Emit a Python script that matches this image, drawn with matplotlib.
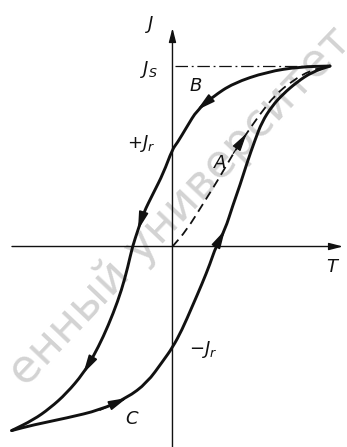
import matplotlib
matplotlib.use("Agg")
import matplotlib.pyplot as plt
from matplotlib.patches import FancyArrowPatch, PathPatch
from matplotlib.path import Path

plt.rcParams["mathtext.fontset"] = "dejavusans"

# Field (T) and magnetisation (J), in units of the saturation point
desc_T = [1.00, 0.81, 0.60, 0.384, 0.257, 0.156, 0.092, 0.029, 0.0, -0.058, -0.122,
          -0.185, -0.219, -0.254, -0.283, -0.323, -0.376, -0.439, -0.503, -0.566,
          -0.672, -0.778, -0.884, -1.021]
desc_J = [1.00, 0.996, 0.968, 0.904, 0.830, 0.756, 0.664, 0.572, 0.540, 0.406, 0.295,
          0.184, 0.091, 0.0, -0.112, -0.241, -0.370, -0.500, -0.610, -0.703,
          -0.813, -0.896, -0.961, -1.020]

asc_T = [-1.021, -0.886, -0.670, -0.460, -0.289, -0.162, -0.060, 0.0, 0.060, 0.124,
         0.187, 0.238, 0.276, 0.333, 0.384, 0.429, 0.473, 0.524, 0.568, 0.632,
         0.702, 0.790, 0.886, 1.00]
asc_J = [-1.020, -0.989, -0.950, -0.906, -0.839, -0.756, -0.634, -0.560, -0.463, -0.335,
         -0.208, -0.097, 0.0, 0.091, 0.230, 0.341, 0.463, 0.590, 0.690, 0.778,
         0.845, 0.911, 0.967, 1.00]

init_T = [0.0, 0.090, 0.196, 0.302, 0.386, 0.471, 0.556, 0.651, 0.759, 0.879, 1.00]
init_J = [0.0, 0.091, 0.239, 0.387, 0.516, 0.627, 0.734, 0.839, 0.917, 0.978, 1.00]

J_s = 1.0
J_r_pos = 0.540
J_r_neg = -0.560

# direction arrows: index of the arrow tip on each curve
desc_arrows = [5, 12, 19]
asc_arrows = [4, 13]
init_arrows = [5]

fig = plt.figure(figsize=(3.47, 4.47), dpi=100)
ax = fig.add_axes([0, 0, 1, 1])
ax.set_xlim(-1.095, 1.108)
ax.set_ylim(-1.111, 1.366)
ax.axis("off")

ink = "#111111"

# watermark
ax.text(0.048, 0.224, "енный университет", rotation=46.5, rotation_mode="anchor",
        ha="center", va="center", fontsize=33, color="#d3d3d3",
        family="DejaVu Sans", zorder=0)

# coordinate axes
axis_arrow = dict(arrowstyle="-|>,head_length=0.7,head_width=0.18",
                  color=ink, lw=1.0, mutation_scale=12, shrinkA=0, shrinkB=0)
ax.annotate("", xy=(1.083, 0), xytext=(-1.019, 0), arrowprops=axis_arrow)
ax.annotate("", xy=(0, 1.211), xytext=(0, -1.12), arrowprops=axis_arrow)

# saturation level
ax.plot([0.016, 1.0], [J_s, J_s], color=ink, lw=0.9, dashes=(10, 3, 1.5, 3))


def smooth_path(xs, ys):
    """Quadratic B-spline path through the midpoints of the given points."""
    pts = list(zip(xs, ys))
    mids = [((a[0] + b[0]) / 2, (a[1] + b[1]) / 2) for a, b in zip(pts[:-1], pts[1:])]
    verts = [pts[0], mids[0]]
    codes = [Path.MOVETO, Path.LINETO]
    for i in range(1, len(pts) - 1):
        verts += [pts[i], mids[i]]
        codes += [Path.CURVE3, Path.CURVE3]
    verts.append(pts[-1])
    codes.append(Path.LINETO)
    return Path(verts, codes)


def draw_curve(xs, ys, lw, dashes=None):
    p = PathPatch(smooth_path(xs, ys), facecolor="none", edgecolor=ink, lw=lw,
                  capstyle="round", joinstyle="round")
    if dashes is not None:
        p.set_linestyle((0, dashes))
        p.set_capstyle("butt")
    ax.add_patch(p)


# hysteresis loop and initial magnetisation curve
draw_curve(desc_T, desc_J, 2.1)
draw_curve(asc_T, asc_J, 2.1)
draw_curve(init_T, init_J, 1.3, dashes=(5, 3))


def arrow_on(xs, ys, k, lw):
    a = FancyArrowPatch((xs[k - 1], ys[k - 1]), (xs[k], ys[k]),
                        arrowstyle="-|>,head_length=0.85,head_width=0.22",
                        mutation_scale=13, color=ink, lw=lw,
                        shrinkA=0, shrinkB=0)
    ax.add_patch(a)


for k in desc_arrows:
    arrow_on(desc_T, desc_J, k, 1.2)
for k in asc_arrows:
    arrow_on(asc_T, asc_J, k, 1.2)
for k in init_arrows:
    arrow_on(init_T, init_J, k, 0.9)

# labels
fs = 13
ax.text(-0.143, 1.23, r"$J$", fontsize=fs, ha="center", va="center", color=ink)
ax.text(-0.15, J_s - 0.02, r"$J_S$", fontsize=fs, ha="center", va="center", color=ink)
ax.text(0.15, 0.89, r"$B$", fontsize=fs, ha="center", va="center", color=ink)
ax.text(-0.20, J_r_pos + 0.03, r"$+J_r$", fontsize=fs, ha="center", va="center", color=ink)
ax.text(0.302, 0.463, r"$A$", fontsize=fs, ha="center", va="center", color=ink)
ax.text(1.019, -0.114, r"$T$", fontsize=fs, ha="center", va="center", color=ink)
ax.text(0.194, J_r_neg - 0.01, r"$-J_r$", fontsize=fs, ha="center", va="center", color=ink)
ax.text(-0.257, -0.955, r"$C$", fontsize=fs, ha="center", va="center", color=ink)

fig.savefig("out.png", dpi=100)
